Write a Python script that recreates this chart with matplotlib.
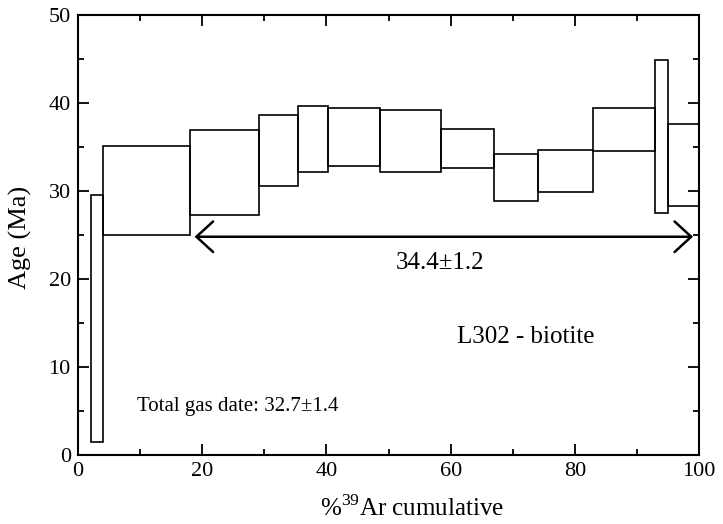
import matplotlib
matplotlib.use('Agg')
import matplotlib.pyplot as plt
from matplotlib.patches import Rectangle
from matplotlib.ticker import MultipleLocator

plt.rcParams['font.family'] = ['Liberation Serif', 'DejaVu Serif']
plt.rcParams['mathtext.fontset'] = 'custom'
plt.rcParams['mathtext.rm'] = 'Liberation Serif'

# step edges (% 39Ar cumulative) and age limits (Ma)
step_edges = [2.2, 4.1, 18.0, 29.1, 35.5, 40.3, 48.6, 58.4, 66.9, 74.1, 82.9, 92.9, 95.0, 100.0]
age_low = [1.5, 25.0, 27.3, 30.6, 32.2, 32.8, 32.2, 32.6, 28.9, 29.9, 34.5, 27.5, 28.3]
age_high = [29.6, 35.1, 36.9, 38.6, 39.7, 39.4, 39.2, 37.0, 34.2, 34.7, 39.4, 44.9, 37.6]

plateau_start = 18.0
plateau_end = 100.0
plateau_y = 24.8
plateau_label = '34.4±1.2'
sample_label = 'L302 - biotite'
total_gas_label = 'Total gas date: 32.7±1.4'

fig = plt.figure(figsize=(7.23, 5.24), dpi=100)
ax = fig.add_axes([0.1075, 0.1317, 0.8597, 0.8397])

for i in range(len(age_low)):
    x0 = step_edges[i]
    w = step_edges[i + 1] - x0
    ax.add_patch(Rectangle((x0, age_low[i]), w, age_high[i] - age_low[i],
                           fill=False, edgecolor='black', linewidth=1.2))

# plateau arrow
ax.annotate('', xy=(plateau_start + 0.8, plateau_y), xytext=(plateau_end - 1.0, plateau_y),
            arrowprops=dict(arrowstyle='<->,head_length=1.2,head_width=1.1',
                            color='black', linewidth=1.8, shrinkA=0, shrinkB=0))
ax.text(58.3, 21.8, plateau_label, ha='center', va='center', fontsize=18)
ax.text(61.0, 13.4, sample_label, ha='left', va='center', fontsize=18)
ax.text(9.6, 5.5, total_gas_label, ha='left', va='center', fontsize=15)

ax.set_xlim(0, 100)
ax.set_ylim(0, 50)
ax.xaxis.set_major_locator(MultipleLocator(20))
ax.xaxis.set_minor_locator(MultipleLocator(10))
ax.yaxis.set_major_locator(MultipleLocator(10))
ax.yaxis.set_minor_locator(MultipleLocator(5))
ax.tick_params(which='both', direction='in', top=True, right=True, width=1.3,
               labelsize=16, pad=5)
ax.tick_params(which='major', length=8)
ax.tick_params(which='minor', length=4)
for s in ax.spines.values():
    s.set_linewidth(1.5)

ax.set_xlabel(r'%$^{39}$Ar cumulative', fontsize=18)
ax.set_ylabel('Age (Ma)', fontsize=19)
ax.xaxis.set_label_coords(0.538, -0.092)
ax.yaxis.set_label_coords(-0.073, 0.495)

fig.savefig('out.png', dpi=100)
